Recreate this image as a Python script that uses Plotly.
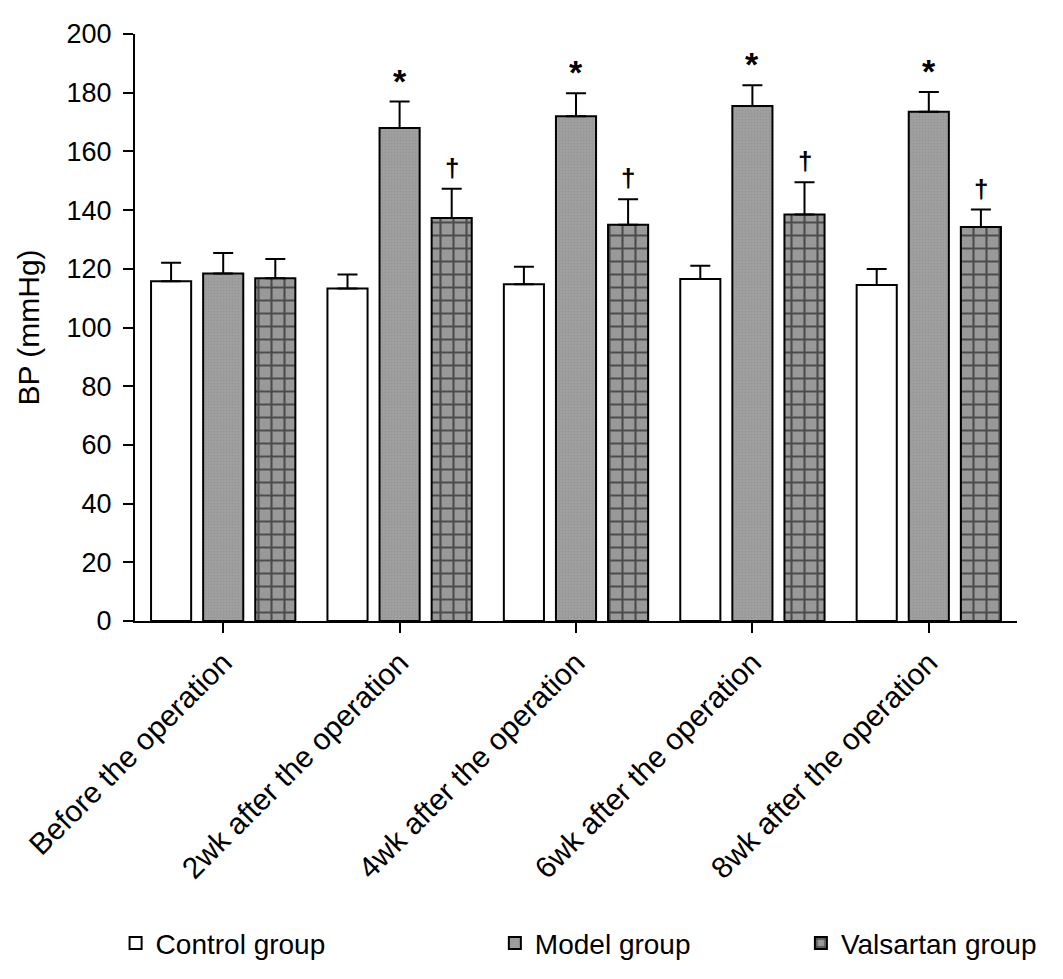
import plotly.graph_objects as go

categories = ["Before the operation", "2wk after the operation", "4wk after the operation",
              "6wk after the operation", "8wk after the operation"]
control = [115.8, 113.3, 114.7, 116.5, 114.5]
control_err = [6.3, 4.8, 6.0, 4.5, 5.4]
model = [118.4, 168.0, 172.0, 175.5, 173.5]
model_err = [7.0, 9.0, 7.8, 7.0, 6.7]
valsartan = [116.8, 137.3, 135.0, 138.5, 134.2]
valsartan_err = [6.5, 10.0, 8.7, 11.0, 6.0]
model_marks = ["", "*", "*", "*", "*"]
valsartan_marks = ["", "†", "†", "†", "†"]

FONT = "Liberation Sans, Arial, sans-serif"
bargap = 0.114
slot = (1 - bargap) / 3

def err(vals):
    return dict(type="data", array=vals, arrayminus=[0] * len(vals), symmetric=False,
                color="black", thickness=2, width=10)

fig = go.Figure()
fig.add_trace(go.Bar(
    name="Control group", x=categories, y=control, legend="legend",
    marker=dict(color="white", line=dict(color="black", width=2)),
    error_y=err(control_err),
))
fig.add_trace(go.Bar(
    name="Model group", x=categories, y=model, legend="legend2",
    marker=dict(color="#9a9a9a", line=dict(color="black", width=2),
                pattern=dict(shape=".", fgcolor="#8a8a8a", bgcolor="#a0a0a0", size=3, solidity=0.3)),
    error_y=err(model_err),
))
fig.add_trace(go.Bar(
    name="Valsartan group", x=categories, y=valsartan, legend="legend3",
    marker=dict(color="#999999", line=dict(color="black", width=2),
                pattern=dict(shape="+", fgcolor="black", bgcolor="#999999", size=13, solidity=0.3)),
    error_y=err(valsartan_err),
))

annotations = []
for i in range(len(categories)):
    if model_marks[i]:
        annotations.append(dict(x=i, y=model[i] + model_err[i], text="<b>" + model_marks[i] + "</b>",
                                showarrow=False, yanchor="bottom", yshift=0,
                                font=dict(family=FONT, size=34, color="black")))
    if valsartan_marks[i]:
        annotations.append(dict(x=i + slot, y=valsartan[i] + valsartan_err[i], text="<b>" + valsartan_marks[i] + "</b>",
                                showarrow=False, yanchor="bottom", yshift=4,
                                font=dict(family=FONT, size=26, color="black")))

leg_common = dict(orientation="h", yanchor="middle", y=-0.549, xanchor="left",
                  font=dict(family=FONT, size=28, color="black"), bgcolor="rgba(0,0,0,0)")
fig.update_layout(
    width=1063, height=979,
    margin=dict(l=127, r=54, t=26, b=366, autoexpand=False),
    paper_bgcolor="white", plot_bgcolor="white",
    barmode="group", bargap=bargap, bargroupgap=0.23,
    font=dict(family=FONT, color="black"),
    showlegend=True,
    legend=dict(x=-0.022, **leg_common),
    legend2=dict(x=0.408, **leg_common),
    legend3=dict(x=0.755, **leg_common),
    annotations=annotations,
)
fig.update_xaxes(
    range=[-0.5, 4.5], showline=True, linecolor="black", linewidth=2,
    ticks="outside", ticklen=10, tickwidth=2, tickcolor="black",
    tickangle=-45, tickfont=dict(family=FONT, size=30), showgrid=False, zeroline=False,
)
fig.update_yaxes(
    range=[0, 200], dtick=20, showline=True, linecolor="black", linewidth=2,
    ticks="outside", ticklen=10, tickwidth=2, tickcolor="black",
    tickfont=dict(family=FONT, size=27), ticklabelstandoff=6,
    showgrid=False, zeroline=False,
    title=dict(text="BP (mmHg)", font=dict(family=FONT, size=30), standoff=18),
)
fig.write_html("out.html")
